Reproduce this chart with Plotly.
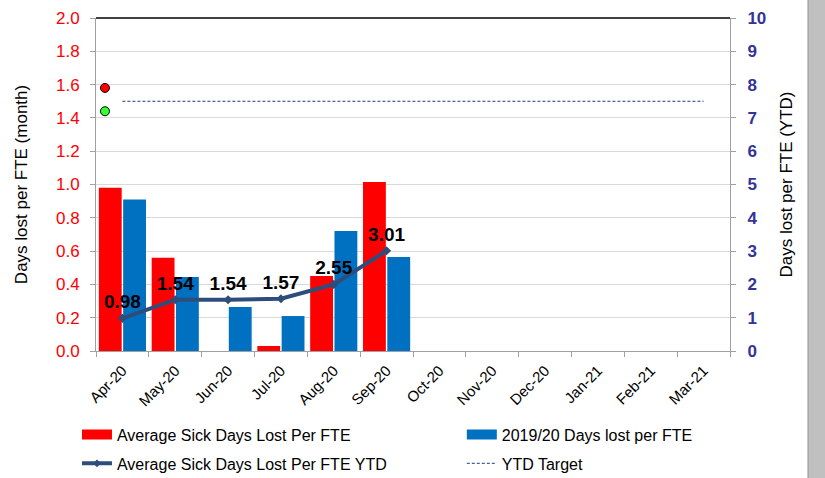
import plotly.graph_objects as go

months = ["Apr-20", "May-20", "Jun-20", "Jul-20", "Aug-20", "Sep-20",
          "Oct-20", "Nov-20", "Dec-20", "Jan-21", "Feb-21", "Mar-21"]
sick_month = [0.98, 0.56, 0.0, 0.03, 0.45, 1.015]
prev_year = [0.91, 0.445, 0.265, 0.21, 0.72, 0.565]
ytd_values = [0.98, 1.54, 1.54, 1.57, 2.0, 3.01]
ytd_labels = ["0.98", "1.54", "1.54", "1.57", "2.55", "3.01"]
ytd_target = [1.5, 1.5, 1.5, 1.5, 1.5, 1.5, 1.5, 1.5, 1.5, 1.5, 1.5, 1.5]
rag_red = [1.58]
rag_green = [1.44]

xpos = list(range(len(months)))
FONT = "Liberation Sans, Arial, sans-serif"
RED = "#FF0000"
BLUE = "#0070C0"
NAVY = "#2E4D7B"

fig = go.Figure()
fig.add_trace(go.Bar(x=xpos[:len(sick_month)], y=sick_month, name="Average Sick Days Lost Per FTE",
                     marker=dict(color=RED, line=dict(width=0)), showlegend=False))
fig.add_trace(go.Bar(x=xpos[:len(prev_year)], y=prev_year, name="2019/20 Days lost per FTE",
                     marker=dict(color=BLUE, line=dict(width=0)), showlegend=False))
fig.add_trace(go.Scatter(x=xpos[:len(ytd_values)], y=ytd_values, yaxis="y2",
                         name="Average Sick Days Lost Per FTE YTD", showlegend=False,
                         mode="lines+markers+text", text=ytd_labels, textposition="top center",
                         textfont=dict(family=FONT, size=19, color="black", weight="bold"),
                         line=dict(color=NAVY, width=4),
                         marker=dict(symbol="diamond", size=7, color=NAVY)))
fig.add_trace(go.Scatter(x=xpos, y=ytd_target, name="YTD Target", mode="lines", showlegend=False,
                         line=dict(color="#1F3A80", width=1, dash="3px,2px")))
fig.add_trace(go.Scatter(x=[-0.33], y=rag_red, mode="markers", showlegend=False,
                         marker=dict(color=RED, size=9, line=dict(color="black", width=1))))
fig.add_trace(go.Scatter(x=[-0.33], y=rag_green, mode="markers", showlegend=False,
                         marker=dict(color="#33FF33", size=9, line=dict(color="black", width=1))))

# legend entries (wide swatches like the original)
legend_entries = [
    ("Average Sick Days Lost Per FTE", dict(color=RED, width=10), "legend", "lines"),
    ("Average Sick Days Lost Per FTE YTD", dict(color=NAVY, width=4), "legend", "lines+markers"),
    ("2019/20 Days lost per FTE", dict(color=BLUE, width=10), "legend2", "lines"),
    ("YTD Target", dict(color="#1F3A80", width=1, dash="3px,2px"), "legend2", "lines"),
]
for i, (nm, ln, lg, md) in enumerate(legend_entries):
    fig.add_trace(go.Scatter(x=[None], y=[None], name=nm, mode=md, line=ln, legend=lg,
                             legendgroup=f"g{i}",
                             marker=dict(symbol="diamond", size=6, color=NAVY)))

legend_common = dict(orientation="v", yanchor="top", y=-0.2, xanchor="left",
                     font=dict(size=16, color="black", family=FONT),
                     tracegroupgap=5, bgcolor="rgba(0,0,0,0)", itemwidth=30)

fig.update_layout(
    width=825, height=478,
    margin=dict(l=96, r=95, t=18, b=127, autoexpand=False),
    paper_bgcolor="white", plot_bgcolor="white",
    font=dict(family=FONT, color="black"),
    barmode="group", bargap=0.08, bargroupgap=0.06,
    xaxis=dict(range=[-0.5, 11.5], tickvals=xpos, ticktext=months, tickangle=-45,
               tickfont=dict(size=15, color="black"), ticks="", showgrid=False,
               showline=True, linecolor="#A0A0A0", linewidth=1, zeroline=False,
               ticklabelstandoff=4,
               minor=dict(tickvals=[i - 0.5 for i in range(13)], ticks="outside",
                          ticklen=5, tickcolor="#A0A0A0", showgrid=False)),
    yaxis=dict(range=[0, 2.0], dtick=0.2, tickformat=".1f",
               tickfont=dict(size=17, color=RED), ticklabelstandoff=7,
               title=dict(text="Days lost per FTE (month)", font=dict(size=17, color="black"), standoff=24),
               showgrid=True, gridcolor="#D9D9D9", gridwidth=1,
               showline=True, linecolor="#A0A0A0", linewidth=1, zeroline=False,
               ticks="outside", ticklen=5, tickcolor="#A0A0A0"),
    yaxis2=dict(range=[0, 10], dtick=1, overlaying="y", side="right",
                tickfont=dict(size=17, color="#333399", weight="bold"), ticklabelstandoff=8,
                title=dict(text="Days lost per FTE (YTD)", font=dict(size=17, color="black"), standoff=14),
                showgrid=False, showline=True, linecolor="#A0A0A0", linewidth=1, zeroline=False,
                ticks="outside", ticklen=5, tickcolor="#A0A0A0"),
    legend=dict(x=-0.03, **legend_common),
    legend2=dict(x=0.577, **legend_common),
    shapes=[
        dict(type="line", xref="paper", yref="paper", x0=0, x1=1, y0=1, y1=1,
             line=dict(color="black", width=1.5)),
        dict(type="rect", xref="paper", yref="paper", x0=(808 - 96) / 634, x1=(830 - 96) / 634,
             y0=-0.5, y1=1.1, fillcolor="#C0C0C0", line=dict(color="#909090", width=1), layer="above"),
    ],
)

fig.write_html("out.html", config={"displayModeBar": False},
               post_script="document.body.style.margin='0';")
